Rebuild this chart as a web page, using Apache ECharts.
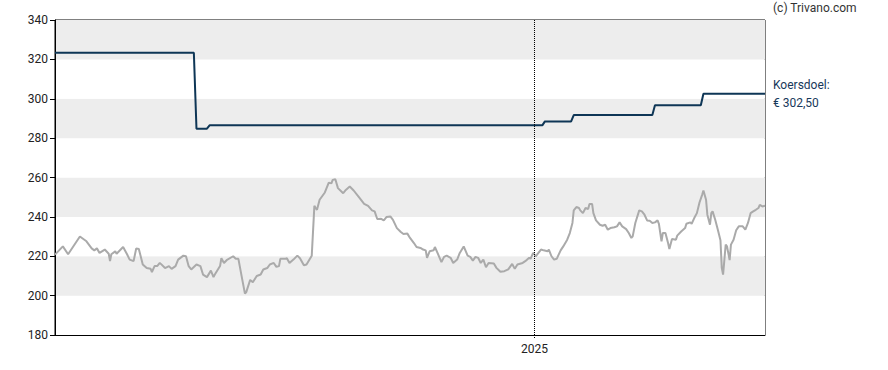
<!DOCTYPE html>
<html>
<head>
<meta charset="utf-8">
<script src="https://cdn.jsdelivr.net/npm/echarts@6/dist/echarts.min.js"></script>
<style>
html,body{margin:0;padding:0;background:#fff;}
#chart{width:888px;height:370px;}
</style>
</head>
<body>
<div id="chart"></div>
<script>
// ---- Data ----
const priceDates = [
 '2024-01-01','2024-01-07','2024-01-11','2024-01-20','2024-01-25','2024-01-29','2024-01-31','2024-02-02','2024-02-04','2024-02-08',
 '2024-02-11','2024-02-12','2024-02-13','2024-02-16','2024-02-17','2024-02-22','2024-02-25','2024-02-27','2024-03-01','2024-03-03',
 '2024-03-05','2024-03-08','2024-03-11','2024-03-14','2024-03-15','2024-03-17','2024-03-19','2024-03-21','2024-03-22','2024-03-25',
 '2024-03-28','2024-03-30','2024-04-02','2024-04-04','2024-04-08','2024-04-10','2024-04-12','2024-04-14','2024-04-18','2024-04-21',
 '2024-04-23','2024-04-26','2024-04-29','2024-05-01','2024-05-02','2024-05-06','2024-05-07','2024-05-09','2024-05-11','2024-05-16',
 '2024-05-18','2024-05-20','2024-05-23','2024-05-25','2024-05-26','2024-05-29','2024-05-31','2024-06-03','2024-06-06','2024-06-08',
 '2024-06-11','2024-06-13','2024-06-16','2024-06-18','2024-06-20','2024-06-21','2024-06-25','2024-06-26','2024-06-28','2024-07-01',
 '2024-07-04','2024-07-06','2024-07-09','2024-07-11','2024-07-15','2024-07-17','2024-07-18','2024-07-19','2024-07-21','2024-07-25',
 '2024-07-28','2024-07-30','2024-07-31','2024-08-02','2024-08-04','2024-08-08','2024-08-10','2024-08-13','2024-08-16','2024-08-20',
 '2024-08-24','2024-08-27','2024-08-30','2024-09-01','2024-09-03','2024-09-06','2024-09-08','2024-09-10','2024-09-13','2024-09-15',
 '2024-09-18','2024-09-21','2024-09-23','2024-09-26','2024-09-28','2024-10-01','2024-10-03','2024-10-06','2024-10-08','2024-10-10',
 '2024-10-11','2024-10-13','2024-10-16','2024-10-17','2024-10-19','2024-10-22','2024-10-24','2024-10-26','2024-10-29','2024-10-31',
 '2024-11-03','2024-11-05','2024-11-08','2024-11-11','2024-11-13','2024-11-15','2024-11-17','2024-11-19','2024-11-21','2024-11-23',
 '2024-11-25','2024-11-27','2024-12-01','2024-12-03','2024-12-06','2024-12-09','2024-12-12','2024-12-15','2024-12-17','2024-12-19',
 '2024-12-23','2024-12-25','2024-12-28','2024-12-29','2024-12-31','2025-01-02','2025-01-03','2025-01-06','2025-01-08','2025-01-11',
 '2025-01-12','2025-01-14','2025-01-16','2025-01-18','2025-01-21','2025-01-23','2025-01-26','2025-01-28','2025-01-30','2025-01-31',
 '2025-02-02','2025-02-04','2025-02-05','2025-02-07','2025-02-09','2025-02-11','2025-02-12','2025-02-14','2025-02-15','2025-02-17',
 '2025-02-20','2025-02-22','2025-02-24','2025-02-26','2025-02-28','2025-03-03','2025-03-05','2025-03-07','2025-03-09','2025-03-12',
 '2025-03-14','2025-03-16','2025-03-17','2025-03-19','2025-03-22','2025-03-24','2025-03-26','2025-03-28','2025-03-30','2025-04-01',
 '2025-04-03','2025-04-05','2025-04-06','2025-04-08','2025-04-09','2025-04-11','2025-04-13','2025-04-14','2025-04-16','2025-04-19',
 '2025-04-20','2025-04-23','2025-04-26','2025-04-27','2025-04-30','2025-05-01','2025-05-03','2025-05-05','2025-05-07','2025-05-09',
 '2025-05-10','2025-05-12','2025-05-13','2025-05-15','2025-05-16','2025-05-17','2025-05-19','2025-05-21','2025-05-23','2025-05-24',
 '2025-05-25','2025-05-27','2025-05-28','2025-05-30','2025-05-31','2025-06-02','2025-06-04','2025-06-06','2025-06-09','2025-06-11',
 '2025-06-13','2025-06-15','2025-06-17','2025-06-19','2025-06-21','2025-06-22','2025-06-24','2025-06-26'
];
const priceValues = [
 220.8,225,221,230,227.6,224,223,224,221.7,223.4,
 221.3,217.5,221,222.5,221.3,224.7,221,218.3,217.5,224,
 223.7,215.8,214,213.6,212,215,215,216.6,216,214,
 215,213.6,215,218.3,220.3,220,215,213.3,215.8,215,
 210.7,209.4,212.7,209.4,210.7,215,219,216.6,218,220,
 218.7,218.7,208,201,201.8,208,206.8,210,210.7,213.3,
 214,215.8,216.6,214.6,215,218.7,218.7,219,216.6,218.3,
 220.3,219,215.4,215.8,220.3,245.6,244.5,243.6,248.7,252.4,
 257.4,257,258.8,259.1,254.6,252,253.7,255.4,253.4,250,
 246.6,245.6,243.3,242.8,238.9,239,238.2,239.9,240.2,238.5,
 234.3,232.3,231.3,231.5,229.3,226.7,224.7,224.2,223.4,223,
 219.2,222.5,223,224.7,221.7,217,219.7,220.3,219.2,216.6,
 218.3,221.7,225,220.3,219.7,217.8,219.7,219.2,216.6,218.3,
 214.4,216.6,216.3,214.1,212.1,212.4,213.3,216.1,213.6,215.8,
 216.6,217.5,219.2,218.7,221.7,220,220.8,223.4,223,222.5,
 223.4,220,218.3,218.7,223,225,228.4,231.8,236.9,243.3,
 245,244.5,243.3,241.9,244.5,244,246.6,246.6,241.9,238.2,
 236,235.5,236,233.5,234.3,234.7,235.2,237.2,235.2,233.8,
 231.8,229.3,230.1,236.9,243.3,242.8,241.1,238.2,238,236.9,
 237.2,238.2,236.5,227.6,231.8,231.8,226.7,223.7,228.8,228.4,
 230.5,232.6,234.3,236.5,237.2,236.5,239.4,241.9,247.3,251.2,
 253.4,248.7,241.1,236,241.9,242.8,238.5,233.5,228.1,214.1,
 210.7,225.9,225,218,225.9,228.4,233.2,235.2,235.2,233.5,
 236.9,241.9,242.8,243.6,244.5,246.1,245.3,245.6
];
const targetDates = ['2024-01-01','2024-04-16','2024-04-18','2024-04-26','2024-04-28','2025-01-07','2025-01-09',
                     '2025-01-29','2025-01-31','2025-04-01','2025-04-03','2025-05-08','2025-05-10','2025-06-26'];
const targetValues = [323.4,323.4,284.8,284.8,286.5,286.5,288.5,288.5,291.7,291.7,296.7,296.7,302.5,302.5];
const yearTicks = ['2025-01-01'];
const yearLabels = ['2025'];
const yMin = 180, yMax = 340, yStep = 20;
const xStart = '2024-01-01', xEnd = '2025-06-26';

// ---- Chart ----
const chart = echarts.init(document.getElementById('chart'), null, {renderer: 'svg'});
const toTs = s => new Date(s + 'T00:00:00Z').getTime();
const priceData = priceDates.map((d, i) => [toTs(d), priceValues[i]]);
const targetData = targetDates.map((d, i) => [toTs(d), targetValues[i]]);
const lastTarget = targetValues[targetValues.length - 1];
const targetText = '€ ' + lastTarget.toFixed(2).replace('.', ',');
const tickTs = yearTicks.map(toTs);

chart.setOption({
  animation: false,
  textStyle: {fontFamily: 'Roboto'},
  grid: {left: 55, right: 123, top: 20, bottom: 35, show: true, borderColor: '#000', borderWidth: 1, backgroundColor: 'transparent'},
  xAxis: {
    type: 'value', min: toTs(xStart), max: toTs(xEnd), scale: true,
    axisLine: {show: true, lineStyle: {color: '#000', width: 1}},
    axisTick: {show: true, customValues: tickTs, length: 4, lineStyle: {color: '#000', type: 'dotted'}},
    axisLabel: {show: true, customValues: tickTs,
                formatter: v => { const i = tickTs.indexOf(v); return i >= 0 ? yearLabels[i] : ''; },
                color: '#222', fontSize: 12, margin: 8, fontFamily: 'Roboto'},
    splitLine: {show: false}
  },
  yAxis: {
    type: 'value', min: yMin, max: yMax, interval: yStep,
    axisLine: {show: true, lineStyle: {color: '#000', width: 1}},
    axisTick: {show: true, length: 5, lineStyle: {color: '#000'}},
    axisLabel: {color: '#222', fontSize: 12, margin: 7, fontFamily: 'Roboto'},
    splitLine: {show: false},
    splitArea: {show: true, areaStyle: {color: ['#ffffff', '#ededed']}}
  },
  series: [
    {
      name: 'Koers', type: 'line', data: priceData, showSymbol: false, symbol: 'none',
      lineStyle: {color: '#aaaaaa', width: 2}, z: 2,
      markLine: {
        silent: true, symbol: 'none', label: {show: false},
        lineStyle: {color: '#000', type: 'dotted', width: 1},
        data: tickTs.map(t => ({xAxis: t}))
      }
    },
    {
      name: 'Koersdoel', type: 'line', data: targetData, showSymbol: false, symbol: 'none',
      lineStyle: {color: '#0e3656', width: 2}, z: 3,
      endLabel: {
        show: true, formatter: 'Koersdoel:\n' + targetText, color: '#17385a', fontSize: 12,
        lineHeight: 18, distance: 8, fontFamily: 'Roboto', align: 'left'
      }
    }
  ],
  graphic: [
    {type: 'text', left: 773, top: 2, style: {text: '(c) Trivano.com', fill: '#333', fontSize: 12, fontFamily: 'Roboto'}}
  ]
});
</script>
</body>
</html>
